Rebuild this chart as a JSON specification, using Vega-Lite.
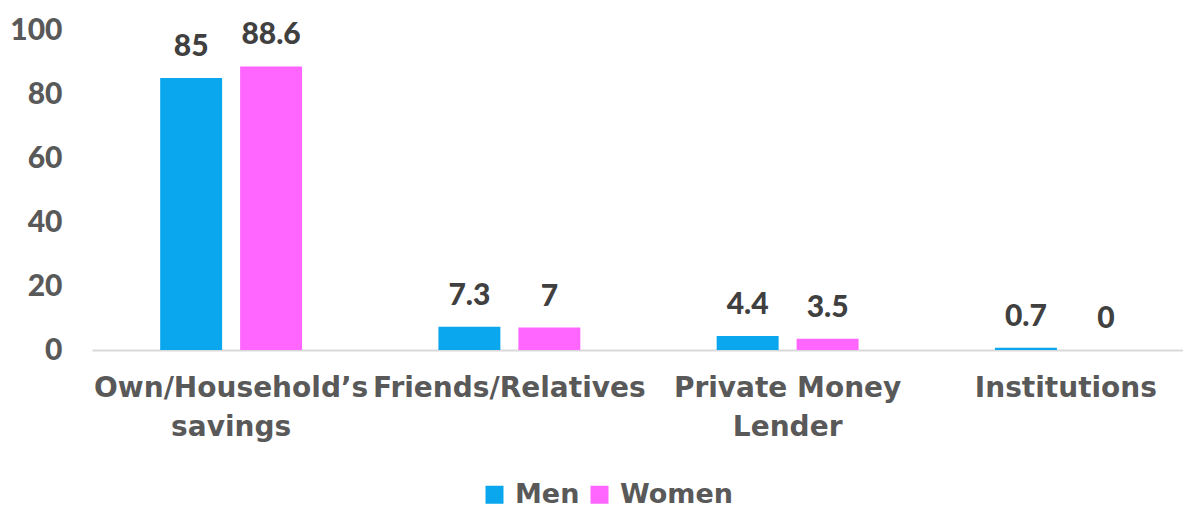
{
  "$schema": "https://vega.github.io/schema/vega-lite/v6.json",
  "width": 1091,
  "height": 320,
  "autosize": {"type": "none"},
  "padding": {"left": 92, "top": 30, "right": 0, "bottom": 156},
  "background": "white",
  "config": {"view": {"stroke": null}},
  "data": {
    "values": [
      {"source": "Own/Household’s savings", "gender": "Men", "value": 85},
      {"source": "Own/Household’s savings", "gender": "Women", "value": 88.6},
      {"source": "Friends/Relatives", "gender": "Men", "value": 7.3},
      {"source": "Friends/Relatives", "gender": "Women", "value": 7},
      {"source": "Private Money Lender", "gender": "Men", "value": 4.4},
      {"source": "Private Money Lender", "gender": "Women", "value": 3.5},
      {"source": "Institutions", "gender": "Men", "value": 0.7},
      {"source": "Institutions", "gender": "Women", "value": 0}
    ]
  },
  "encoding": {
    "x": {
      "field": "source",
      "type": "nominal",
      "sort": null,
      "scale": {"range": [0, 1113], "paddingInner": 0.49, "paddingOuter": 0.245},
      "axis": {
        "title": null,
        "labelAngle": 0,
        "ticks": false,
        "domainColor": "#D9D9D9",
        "domainWidth": 2,
        "labelFont": "DejaVu Sans",
        "labelFontWeight": "bold",
        "labelFontSize": 28,
        "labelColor": "#595959",
        "labelPadding": 24,
        "labelBaseline": "top",
        "labelLineHeight": 39,
        "labelLimit": 400,
        "labelExpr": "datum.value == 'Own/Household’s savings' ? ['Own/Household’s', 'savings'] : datum.value == 'Private Money Lender' ? ['Private Money', 'Lender'] : datum.value"
      }
    },
    "xOffset": {
      "field": "gender",
      "type": "nominal",
      "scale": {"paddingInner": 0.225, "paddingOuter": 0}
    },
    "y": {
      "field": "value",
      "type": "quantitative",
      "scale": {"domain": [0, 100]},
      "axis": {
        "title": null,
        "values": [0, 20, 40, 60, 80, 100],
        "domain": false,
        "ticks": false,
        "grid": false,
        "labelFont": "Lato",
        "labelFontWeight": 900,
        "labelFontSize": 30,
        "labelColor": "#595959",
        "labelPadding": 30
      }
    }
  },
  "layer": [
    {
      "mark": {"type": "bar"},
      "encoding": {
        "color": {
          "field": "gender",
          "type": "nominal",
          "scale": {"domain": ["Men", "Women"], "range": ["#0AA6EE", "#FF66FF"]},
          "legend": {
            "title": null,
            "orient": "none",
            "direction": "horizontal",
            "legendX": 389,
            "legendY": 451,
            "symbolType": "square",
            "symbolSize": 324,
            "symbolStrokeWidth": 0,
            "labelFont": "DejaVu Sans",
            "labelFontWeight": "bold",
            "labelFontSize": 27,
            "labelColor": "#595959",
            "labelOffset": 7,
            "columnPadding": 6
          }
        }
      }
    },
    {
      "mark": {
        "type": "text",
        "baseline": "bottom",
        "dy": -16,
        "font": "Lato",
        "fontWeight": 900,
        "fontSize": 30,
        "color": "#404040"
      },
      "encoding": {
        "text": {"field": "value", "type": "quantitative"}
      }
    }
  ]
}
